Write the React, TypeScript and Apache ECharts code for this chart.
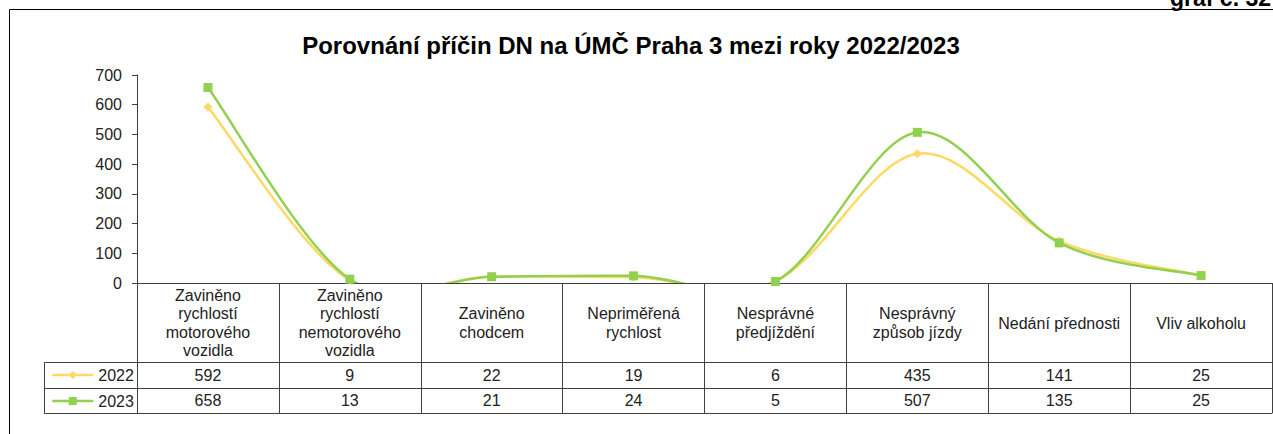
import React, { useEffect, useRef } from "react";
import * as echarts from "echarts";

const categories = [
  "Zaviněno\nrychlostí\nmotorového\nvozidla",
  "Zaviněno\nrychlostí\nnemotorového\nvozidla",
  "Zaviněno\nchodcem",
  "Nepriměřená\nrychlost",
  "Nesprávné\npředjíždění",
  "Nesprávný\nzpůsob jízdy",
  "Nedání přednosti",
  "Vliv alkoholu",
];
const values2022 = [592, 9, 22, 19, 6, 435, 141, 25];
const values2023 = [658, 13, 21, 24, 5, 507, 135, 25];
const seriesNames = ["2022", "2023"];
const seriesColors = ["#FFD966", "#92D050"];
const yTicks = { min: 0, max: 700, interval: 100 };
const titleText = "Porovnání příčin DN na ÚMČ Praha 3 mezi roky 2022/2023";
const chartLabel = "graf č. 32";

const FONT = 'Arial, "Liberation Sans", sans-serif';
const LINE = "#404040";
const TEXT = "#222";
const LINE_W = 2.5;

// Excel-style smoothed curve drawn through the axis scale (api.coord)
function smoothCurve(values: number[], color: string) {
  return (params: any, api: any) => {
    if (params.dataIndex !== 0) return null;
    const pts = values.map((v, i) => api.coord([i, v]));
    let d = `M${pts[0][0]},${pts[0][1]}`;
    for (let i = 0; i < pts.length - 1; i++) {
      const p0 = pts[i - 1] || pts[i];
      const p1 = pts[i];
      const p2 = pts[i + 1];
      const p3 = pts[i + 2] || pts[i + 1];
      const c1x = p1[0] + (p2[0] - p0[0]) / 6;
      const c1y = p1[1] + (p2[1] - p0[1]) / 6;
      const c2x = p2[0] - (p3[0] - p1[0]) / 6;
      const c2y = p2[1] - (p3[1] - p1[1]) / 6;
      d += ` C${c1x},${c1y} ${c2x},${c2y} ${p2[0]},${p2[1]}`;
    }
    const cs = params.coordSys;
    return {
      type: "path",
      shape: { pathData: d },
      style: { stroke: color, lineWidth: LINE_W, fill: "none" },
      clipPath: { type: "rect", shape: { x: cs.x, y: cs.y, width: cs.width, height: cs.height } },
    };
  };
}

export default function App() {
  const ref = useRef<HTMLDivElement>(null);
  useEffect(() => {
    if (!ref.current) return;
    const chart = echarts.init(ref.current, null, { renderer: "svg" });
    const gridLeft = 137;
    const axisY = 283;
    const row1 = 79;
    const row2 = 105;
    const row3 = 130;
    const tableLeft = 44;
    const valueAxis = (data: number[], offset: number, margin: number, show: boolean) => ({
      type: "category",
      gridIndex: 0,
      position: "bottom",
      offset,
      data: data.map(String),
      boundaryGap: true,
      axisLine: { show: true, lineStyle: { color: LINE, width: 1 } },
      axisTick: { show: false },
      splitLine: { show: false },
      axisLabel: {
        show,
        interval: 0,
        margin,
        verticalAlign: "middle",
        fontSize: 16,
        fontFamily: FONT,
        color: TEXT,
      },
    });
    const allValues = [values2022, values2023];
    chart.setOption({
      animation: false,
      backgroundColor: "#fff",
      title: {
        text: titleText,
        left: 626,
        textAlign: "center",
        top: 28,
        textStyle: { fontSize: 24, fontWeight: "bold", fontFamily: FONT, color: "#000" },
      },
      legend: {
        orient: "vertical",
        left: 51,
        top: 367,
        padding: 0,
        itemWidth: 41,
        itemHeight: 10,
        itemGap: 10,
        data: seriesNames.map((n, i) => ({
          name: n,
          lineStyle: { color: seriesColors[i], width: LINE_W, opacity: 1 },
        })),
        textStyle: { fontSize: 16, fontFamily: FONT, color: TEXT, lineHeight: 16 },
      },
      grid: { left: gridLeft, right: 1, top: 75, bottom: 434 - axisY },
      xAxis: [
        {
          type: "category",
          data: categories,
          boundaryGap: true,
          position: "bottom",
          axisLine: { show: true, lineStyle: { color: LINE, width: 1 } },
          axisTick: { show: true, length: row3, interval: 0, lineStyle: { color: LINE, width: 1 } },
          axisLabel: {
            interval: 0,
            margin: 40,
            verticalAlign: "middle",
            fontSize: 16,
            lineHeight: 18.3,
            fontFamily: FONT,
            color: TEXT,
          },
        },
        valueAxis(values2022, row1, 13, true),
        valueAxis(values2023, row2, 12.5, true),
        valueAxis(values2023, row3, 10, false),
      ],
      yAxis: {
        type: "value",
        min: yTicks.min,
        max: yTicks.max,
        interval: yTicks.interval,
        axisLine: { show: true, lineStyle: { color: LINE, width: 1 } },
        axisTick: { show: true, length: 5, lineStyle: { color: LINE } },
        splitLine: { show: false },
        axisLabel: { margin: 15, fontSize: 16, fontFamily: FONT, color: TEXT },
      },
      series: [
        ...allValues.map((vals, i) => ({
          name: seriesNames[i] + " curve",
          type: "custom",
          data: vals.map((v, j) => [j, v]),
          encode: { x: 0, y: 1 },
          renderItem: smoothCurve(vals, seriesColors[i]),
          silent: true,
          z: 2,
        })),
        ...allValues.map((vals, i) => ({
          name: seriesNames[i],
          type: "line",
          data: vals,
          symbol: i === 0 ? "diamond" : "rect",
          symbolSize: 9,
          color: seriesColors[i],
          lineStyle: { width: LINE_W, color: seriesColors[i], opacity: 0 },
          itemStyle: { color: seriesColors[i] },
          z: 3,
        })),
      ],
      graphic: [
        {
          type: "polyline",
          shape: { points: [[9.5, 434], [9.5, 9.5], [1273, 9.5]] },
          style: { stroke: "#000", lineWidth: 1, fill: null },
        },
        {
          type: "text",
          style: {
            x: 1170,
            y: -2,
            align: "left",
            verticalAlign: "middle",
            text: chartLabel,
            fontSize: 23,
            fontWeight: "bold",
            fontFamily: FONT,
            fill: "#000",
          },
        },
        {
          type: "polyline",
          shape: {
            points: [
              [gridLeft, axisY + row1 + 0.5],
              [tableLeft + 0.5, axisY + row1 + 0.5],
              [tableLeft + 0.5, axisY + row3 + 0.5],
              [gridLeft, axisY + row3 + 0.5],
            ],
          },
          style: { stroke: LINE, lineWidth: 1, fill: null },
        },
        {
          type: "line",
          shape: { x1: tableLeft, y1: axisY + row2 + 0.5, x2: gridLeft, y2: axisY + row2 + 0.5 },
          style: { stroke: LINE, lineWidth: 1 },
        },
      ],
    });
    return () => chart.dispose();
  }, []);
  return (
    <div
      ref={ref}
      style={{ position: "fixed", left: 0, top: 0, width: 1273, height: 434, background: "#fff" }}
    />
  );
}
